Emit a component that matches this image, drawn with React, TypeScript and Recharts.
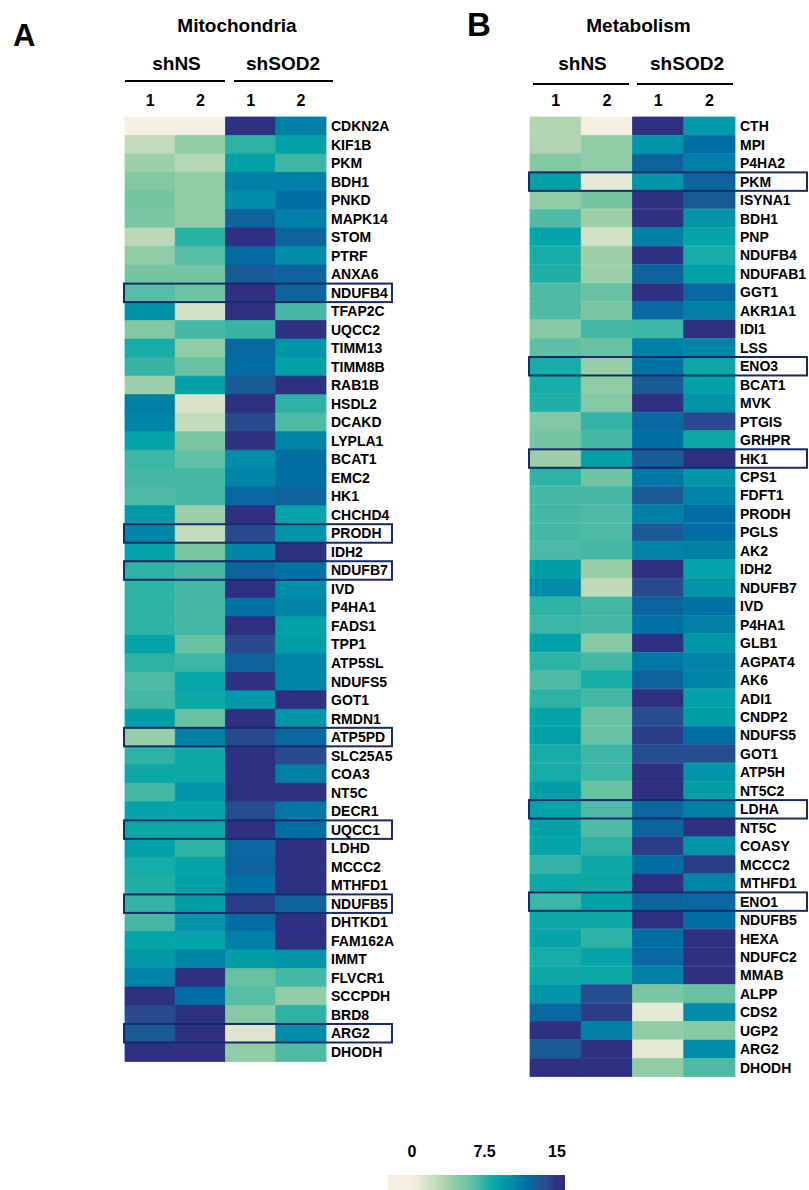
import React from 'react';
import { BarChart, Bar, XAxis, YAxis, Cell, ReferenceArea } from 'recharts';

const FONT = '"Liberation Sans", Arial, Helvetica, sans-serif';

// ---------- Panel A: Mitochondria ----------
const mitoGenes = ['CDKN2A','KIF1B','PKM','BDH1','PNKD','MAPK14','STOM','PTRF','ANXA6','NDUFB4','TFAP2C','UQCC2','TIMM13','TIMM8B','RAB1B','HSDL2','DCAKD','LYPLA1','BCAT1','EMC2','HK1','CHCHD4','PRODH','IDH2','NDUFB7','IVD','P4HA1','FADS1','TPP1','ATP5SL','NDUFS5','GOT1','RMDN1','ATP5PD','SLC25A5','COA3','NT5C','DECR1','UQCC1','LDHD','MCCC2','MTHFD1','NDUFB5','DHTKD1','FAM162A','IMMT','FLVCR1','SCCPDH','BRD8','ARG2','DHODH'];
const mitoNS1 = [0,2.5,4,5,5.5,5.3,2.8,4.5,5.5,6.5,10,5,8,7.3,4,11,10.7,8.8,7.2,7,6.7,9.5,10.7,8.8,7.5,7.5,7.5,7.5,8.8,7.5,6.7,7,9.2,4.2,7.5,8.5,7,8.8,8.5,9,8,7.8,7.4,7,8.8,9.5,10.7,15,14,13,15];
const mitoNS2 = [0,4.5,3,4.5,4.5,4.5,7.6,6.5,5.5,5.8,1.8,7,4.5,6,9,1.5,2.4,5.3,6.2,7,7,4,2.5,5.3,7,7,7,7,6,7.2,8.7,8.5,6,11,8.5,8.5,9.8,8.8,8.5,7.5,8.8,9,9.2,9.8,8.8,10.7,15,12,15,15,15];
const mitoSOD1 = [15,7.5,9,11,10.3,12.5,15,12.2,13,15,15,7.3,12.3,12,13,15,14,15,10.3,10.7,12.3,15,14,10.7,12.5,15,11.7,15,14,12.5,15,9.5,15,14,15,15,15,13.8,15,12.3,12.5,11.7,14.5,12,11,9.2,6,6.5,4.8,1.2,4.5];
const mitoSOD2 = [11,9,7.2,11,12,11,12.5,10.3,12.5,12.5,7,15,9.8,9,15,7.5,6.7,10.7,12,12,12.5,8.8,9.8,15,11.7,10.3,10.7,9,9.2,10.7,10.7,15,9.8,12.3,14,11,15,11.5,12,15,15,15,12.5,15,15,9.8,7,4.5,7.5,10.3,6.7];
const mitoHighlights = ['NDUFB4','PRODH','NDUFB7','ATP5PD','UQCC1','NDUFB5','ARG2'];

// ---------- Panel B: Metabolism ----------
const metaGenes = ['CTH','MPI','P4HA2','PKM','ISYNA1','BDH1','PNP','NDUFB4','NDUFAB1','GGT1','AKR1A1','IDI1','LSS','ENO3','BCAT1','MVK','PTGIS','GRHPR','HK1','CPS1','FDFT1','PRODH','PGLS','AK2','IDH2','NDUFB7','IVD','P4HA1','GLB1','AGPAT4','AK6','ADI1','CNDP2','NDUFS5','GOT1','ATP5H','NT5C2','LDHA','NT5C','COASY','MCCC2','MTHFD1','ENO1','NDUFB5','HEXA','NDUFC2','MMAB','ALPP','CDS2','UGP2','ARG2','DHODH'];
const metaNS1 = [3.2,3.2,5,9,4.5,6.7,8.8,8,7.8,6.7,6.7,4.8,6.3,8,8,7.8,5,5.5,4,7.5,7,7,7,6.8,9.2,10.3,7.5,7.2,9,7.5,6.7,7.5,8.8,9,8,8,9.2,8.8,9,8.8,7.4,8.5,7.2,8.5,8.8,8,8.5,9.8,12.3,15,13,15];
const metaNS2 = [0,4.5,4.5,0.7,5.5,4,1.8,4,4,6,5.3,7,6,4.2,4.5,4.8,7.4,7,9,5.8,7,6.8,6.8,7,4.2,2.6,7,7,4.8,7,8,7,6,6,7.2,7.2,6,6.8,6.7,7.5,8.5,8.5,9,8.5,7.5,8.8,8.5,13.8,14.5,11,15,15];
const metaSOD1 = [15,9.8,12.5,9.8,15,15,11,15,12.5,15,12.3,7.2,11,11.7,13,15,12.3,12,13,11.5,13,11,13,10.7,15,14,12.5,11.7,15,11.5,12.5,15,13.8,14.5,13.8,15,15,12.3,12.5,14.5,12,15,12.5,15,12,12.3,11,5.3,0.8,4.5,0.8,4.5];
const metaSOD2 = [9.5,12,11,12.5,13,9.8,8.8,8,9,12.3,11,15,10.7,8.5,9,9.8,14,8.5,15,9.8,10.7,12,12,11,8.8,9.8,11.7,11,9.8,10.7,10.7,9,9.2,12,13.8,9.8,9.2,11,15,9.8,14.5,10.7,12.3,12,15,15,15,6,10.3,4.8,10.3,6.8];
const metaHighlights = ['PKM','ENO3','HK1','LDHA','ENO1'];

// ---------- labels ----------
const columnLabels = ['1', '2', '1', '2'];
const groupLabels = ['shNS', 'shSOD2'];
const legendTicks = [0, 7.5, 15];

// colour scale (value -> colour)
const colorStops: [number, string][] = [
  [0, '#f3f0e2'], [1, '#e2e7cf'], [2, '#cfdfc0'], [3, '#b6d7b3'], [4, '#9dcfa9'],
  [5, '#82c8a3'], [6, '#68c2a2'], [7, '#45b8a5'], [8, '#18aca6'], [9, '#00a2a8'],
  [10, '#0092a8'], [11, '#0080a7'], [12, '#006ea3'], [13, '#195a97'], [14, '#294a8e'], [15, '#2e3082'],
];

function hexToRgb(h: string) {
  return [parseInt(h.slice(1, 3), 16), parseInt(h.slice(3, 5), 16), parseInt(h.slice(5, 7), 16)];
}
function colorFor(v: number) {
  const x = Math.max(0, Math.min(15, v));
  let i = 0;
  while (i < colorStops.length - 2 && x > colorStops[i + 1][0]) i++;
  const [v0, c0] = colorStops[i];
  const [v1, c1] = colorStops[i + 1];
  const t = (x - v0) / (v1 - v0);
  const a = hexToRgb(c0), b = hexToRgb(c1);
  const c = a.map((q, k) => Math.round(q + (b[k] - q) * t));
  return `rgb(${c[0]},${c[1]},${c[2]})`;
}

type HeatProps = {
  genes: string[];
  cols: number[][];
  highlights: string[];
  left: number;
  width: number;
  height: number;
  boxExtra: number;
};

function Heatmap({ genes, cols, highlights, left, width, height, boxExtra }: HeatProps) {
  const rows = genes.map((g) => ({ gene: g, u0: 1, u1: 1, u2: 1, u3: 1 }));
  const tickStyle = { fontSize: 14, fontWeight: 'bold', fill: '#000', fontFamily: FONT };
  return (
    <div style={{ position: 'absolute', left, top: 0 }}>
      <BarChart
        width={width}
        height={height}
        data={rows}
        layout="vertical"
        margin={{ top: 87, right: 0, bottom: 5, left: 125 }}
        barCategoryGap={0}
        barGap={0}
      >
        <XAxis
          type="number"
          domain={[0, 4]}
          orientation="top"
          ticks={[0.5, 1.5, 2.5, 3.5]}
          tickFormatter={(v: number) => columnLabels[Math.floor(v)]}
          axisLine={false}
          tickLine={false}
          tickSize={0}
          tickMargin={11}
          height={30}
          interval={0}
          tick={{ fontSize: 16, fontWeight: 'bold', fill: '#000', fontFamily: FONT }}
        />
        <YAxis
          type="category"
          dataKey="gene"
          orientation="right"
          width={width - 125 - (width === 400 ? 201 : 205)}
          axisLine={false}
          tickLine={false}
          tickSize={0}
          tickMargin={5}
          interval={0}
          tick={tickStyle}
        />
        {[0, 1, 2, 3].map((c) => (
          <Bar key={c} dataKey={'u' + c} stackId="s" isAnimationActive={false}>
            {cols[c].map((v, i) => (
              <Cell key={i} fill={colorFor(v)} stroke={colorFor(v)} strokeWidth={0.8} />
            ))}
          </Bar>
        ))}
        {highlights.map((g) => (
          <ReferenceArea
            key={g}
            y1={g}
            y2={g}
            ifOverflow="visible"
            zIndex={1500}
            shape={(p: any) => (
              <rect
                x={p.x - 1}
                y={p.y}
                width={p.width + boxExtra}
                height={p.height}
                fill="none"
                stroke="#182a6a"
                strokeWidth={2}
              />
            )}
          />
        ))}
      </BarChart>
    </div>
  );
}

export default function App() {
  const legX = 388, legW = 177;
  const v2x = (v: number) => 412 + (v * 145) / 15;
  const gradStops = colorStops.map(([v, c]) => ({ off: (v2x(v) - legX) / legW, c }));
  const txt = { fontFamily: FONT, fontWeight: 'bold' as const, fill: '#000' };
  return (
    <div style={{ position: 'absolute', left: 0, top: 0, width: 809, height: 1190, background: '#fff', overflow: 'hidden' }}>
      <Heatmap
        genes={mitoGenes}
        cols={[mitoNS1, mitoNS2, mitoSOD1, mitoSOD2]}
        highlights={mitoHighlights}
        left={0}
        width={400}
        height={1066}
        boxExtra={67}
      />
      <Heatmap
        genes={metaGenes}
        cols={[metaNS1, metaNS2, metaSOD1, metaSOD2]}
        highlights={metaHighlights}
        left={405}
        width={404}
        height={1082}
        boxExtra={73}
      />
      <svg width={809} height={1190} style={{ position: 'absolute', left: 0, top: 0, pointerEvents: 'none' }}>
        <defs>
          <linearGradient id="legGrad" x1="0" x2="1" y1="0" y2="0">
            <stop offset={0} stopColor={colorStops[0][1]} />
            {gradStops.map((s, i) => (
              <stop key={i} offset={Math.max(0, Math.min(1, s.off))} stopColor={s.c} />
            ))}
            <stop offset={1} stopColor={colorStops[colorStops.length - 1][1]} />
          </linearGradient>
        </defs>
        <text x={13} y={46} fontSize={31} {...txt}>A</text>
        <text x={467} y={36} fontSize={33} {...txt}>B</text>
        <text x={237} y={32} fontSize={19} textAnchor="middle" {...txt}>Mitochondria</text>
        <text x={638.5} y={32} fontSize={19} textAnchor="middle" {...txt}>Metabolism</text>
        <text x={176.5} y={70} fontSize={19} textAnchor="middle" {...txt}>{groupLabels[0]}</text>
        <text x={283} y={70} fontSize={19} textAnchor="middle" {...txt}>{groupLabels[1]}</text>
        <text x={582.5} y={70} fontSize={19} textAnchor="middle" {...txt}>{groupLabels[0]}</text>
        <text x={687} y={70} fontSize={19} textAnchor="middle" {...txt}>{groupLabels[1]}</text>
        <line x1={125} x2={225} y1={81} y2={81} stroke="#000" strokeWidth={2} />
        <line x1={234} x2={333} y1={81} y2={81} stroke="#000" strokeWidth={2} />
        <line x1={533} x2={629} y1={84} y2={84} stroke="#000" strokeWidth={2} />
        <line x1={637} x2={733} y1={84} y2={84} stroke="#000" strokeWidth={2} />
        {legendTicks.map((t) => (
          <text key={t} x={v2x(t)} y={1157} fontSize={16} textAnchor="middle" {...txt}>{String(t)}</text>
        ))}
        <rect x={legX} y={1175} width={legW} height={15} fill="url(#legGrad)" />
      </svg>
    </div>
  );
}
